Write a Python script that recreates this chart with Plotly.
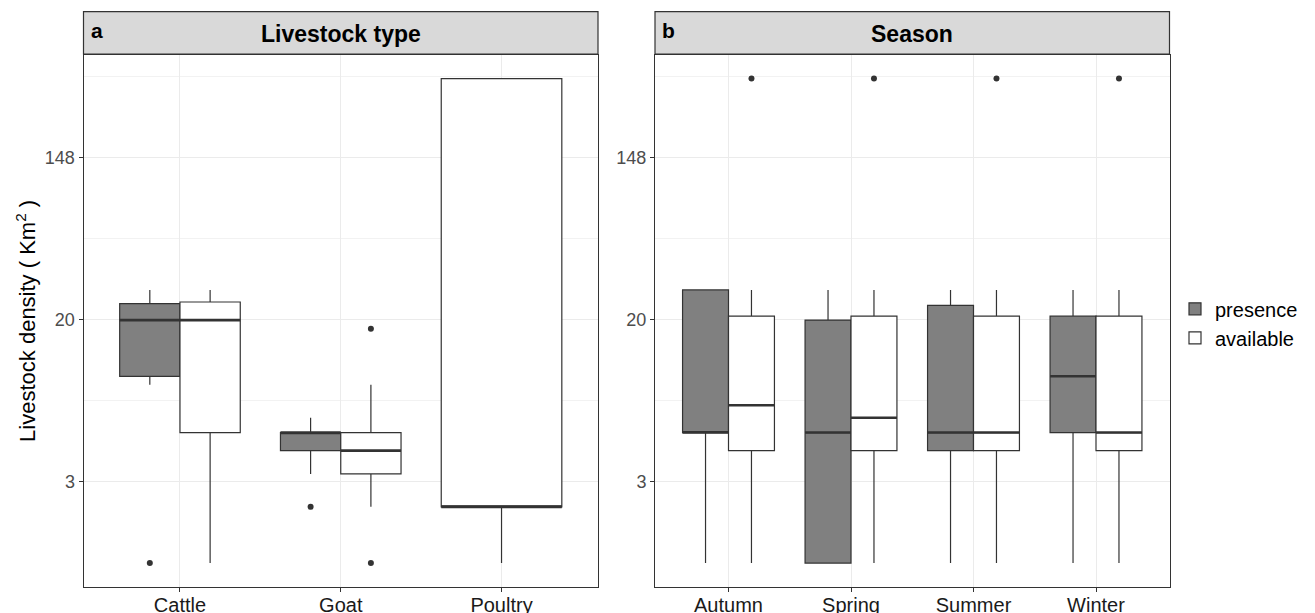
import math
import plotly.graph_objects as go

# ---------------- data ----------------
livestock_cats = ["Cattle", "Goat", "Poultry"]
season_cats = ["Autumn", "Spring", "Summer", "Winter"]
groups = ["presence", "available"]

# Panel a: Livestock type  (None = group absent)
lv_presence_low = [9, 3, None]
lv_presence_q1 = [10, 4, None]
lv_presence_med = [20, 5, None]
lv_presence_q3 = [24.5, 5, None]
lv_presence_high = [29, 6, None]
lv_presence_out = [[1], [2], []]

lv_available_low = [1, 2, 1]
lv_available_q1 = [5, 3, 2]
lv_available_med = [20, 4, 2]
lv_available_q3 = [25, 5, 393]
lv_available_high = [29, 9, 393]
lv_available_out = [[], [18, 1], []]

# Panel b: Season
se_presence_low = [1, 1, 1, 1]
se_presence_q1 = [5, 1, 4, 5]
se_presence_med = [5, 5, 5, 10]
se_presence_q3 = [29, 20, 24, 21]
se_presence_high = [29, 29, 29, 29]
se_presence_out = [[], [], [], []]

se_available_low = [1, 1, 1, 1]
se_available_q1 = [4, 4, 4, 4]
se_available_med = [7, 6, 5, 5]
se_available_q3 = [21, 21, 21, 21]
se_available_high = [29, 29, 29, 29]
se_available_out = [[393], [393], [393], [393]]

y_tick_vals = [math.e ** 1, math.e ** 3, math.e ** 5]
y_tick_text = ["3", "20", "148"]
y_minor_vals = [math.e ** 2, math.e ** 4, math.e ** 6]

# ---------------- styling ----------------
W, H = 1315, 613
OFF = 8  # page body margin


def PX(p):
    return (p - OFF) / W


def PY(p):
    return 1 - (p - OFF) / H


FONT = "Liberation Sans, Arial, sans-serif"
fills = {"presence": "#808080", "available": "#ffffff"}
EDGE = "#333333"

panels = [
    dict(cats=livestock_cats, xa="x", ya="y", stats={
        "presence": (lv_presence_low, lv_presence_q1, lv_presence_med, lv_presence_q3, lv_presence_high, lv_presence_out),
        "available": (lv_available_low, lv_available_q1, lv_available_med, lv_available_q3, lv_available_high, lv_available_out),
    }),
    dict(cats=season_cats, xa="x2", ya="y2", stats={
        "presence": (se_presence_low, se_presence_q1, se_presence_med, se_presence_q3, se_presence_high, se_presence_out),
        "available": (se_available_low, se_available_q1, se_available_med, se_available_q3, se_available_high, se_available_out),
    }),
]

fig = go.Figure()
legend_done = set()
DODGE = 0.75
for p in panels:
    for i, cat in enumerate(p["cats"]):
        present = [g for g in groups if p["stats"][g][0][i] is not None]
        n = len(present)
        w = DODGE / n
        for k, g in enumerate(present):
            low, q1, med, q3, high, out = p["stats"][g]
            pos = (i + 1) - DODGE / 2 + w * (k + 0.5)
            fig.add_trace(go.Box(
                x=[pos], q1=[q1[i]], median=[med[i]], q3=[q3[i]],
                lowerfence=[low[i]], upperfence=[high[i]],
                width=w, fillcolor=fills[g], line=dict(color=EDGE, width=1.2),
                whiskerwidth=0, boxpoints=False, name=g,
                showlegend=g not in legend_done, xaxis=p["xa"], yaxis=p["ya"],
                hoverinfo="skip",
            ))
            legend_done.add(g)
            # thick median line
            fig.add_trace(go.Scatter(
                x=[pos - w / 2, pos + w / 2], y=[med[i], med[i]], mode="lines",
                line=dict(color=EDGE, width=2.6), showlegend=False,
                xaxis=p["xa"], yaxis=p["ya"], hoverinfo="skip",
            ))
            if out[i]:
                fig.add_trace(go.Scatter(
                    x=[pos] * len(out[i]), y=out[i], mode="markers",
                    marker=dict(size=6, color=EDGE), showlegend=False,
                    xaxis=p["xa"], yaxis=p["ya"], hoverinfo="skip",
                ))

ytop_px, ybot_px = 54.5, 587.3
y_dom = [PY(ybot_px), PY(ytop_px)]
xa_dom = [PX(83.5), PX(598.0)]
xb_dom = [PX(655.0), PX(1169.5)]
ln10 = math.log(10)
y_range = [-0.2985 / ln10, 6.27 / ln10]

common_x = dict(showgrid=True, gridcolor="#ebebeb", gridwidth=1, ticks="outside", ticklen=4,
                tickcolor=EDGE, showline=True, linecolor=EDGE, linewidth=1, mirror=True,
                zeroline=False, ticklabelstandoff=-4,
                tickfont=dict(family=FONT, size=20, color="#1a1a1a"))
common_y = dict(type="log", range=y_range, tickmode="array", tickvals=y_tick_vals, ticktext=y_tick_text,
                showgrid=True, gridcolor="#ebebeb", gridwidth=1, ticks="outside", ticklen=4,
                tickcolor=EDGE, showline=True, linecolor=EDGE, linewidth=1, mirror=True,
                zeroline=False, tickfont=dict(family=FONT, size=18, color="#4d4d4d"),
                minor=dict(tickvals=y_minor_vals, showgrid=True, gridcolor="#f2f2f2", gridwidth=1, ticks=""))

fig.update_layout(
    width=W, height=H, margin=dict(l=0, r=0, t=0, b=0),
    paper_bgcolor="white", plot_bgcolor="white", boxmode="overlay",
    font=dict(family=FONT, color="black"),
    xaxis=dict(domain=xa_dom, range=[0.4, 3.6], tickmode="array", tickvals=[1, 2, 3],
               ticktext=livestock_cats, anchor="y", **common_x),
    yaxis=dict(domain=y_dom, anchor="x", **common_y),
    xaxis2=dict(domain=xb_dom, range=[0.4, 4.6], tickmode="array", tickvals=[1, 2, 3, 4],
                ticktext=season_cats, anchor="y2", **common_x),
    yaxis2=dict(domain=y_dom, anchor="x2", **common_y),
    legend=dict(x=PX(1175), y=PY(323.3), xanchor="left", yanchor="middle",
                font=dict(family=FONT, size=20, color="black"), bgcolor="rgba(0,0,0,0)",
                tracegroupgap=0, itemwidth=30),
    showlegend=True,
)

# strips
strip_top, strip_bot = PY(11.7), PY(54.0)
for dom, title, tag in [(xa_dom, "Livestock type", "a"), (xb_dom, "Season", "b")]:
    fig.add_shape(type="rect", xref="paper", yref="paper", x0=dom[0], x1=dom[1],
                  y0=strip_bot, y1=strip_top, fillcolor="#d9d9d9", line=dict(color=EDGE, width=1.2))
    fig.add_annotation(xref="paper", yref="paper", x=(dom[0] + dom[1]) / 2, y=(strip_top + strip_bot) / 2 - 1 / H,
                       text="<b>" + title + "</b>", showarrow=False,
                       font=dict(family=FONT, size=23, color="black"), xanchor="center", yanchor="middle")
    fig.add_annotation(xref="paper", yref="paper", x=dom[0] + 5 / W, y=(strip_top + strip_bot) / 2 + 2 / H,
                       text="<b>" + tag + "</b>", showarrow=False,
                       font=dict(family=FONT, size=21, color="black"), xanchor="left", yanchor="middle")

# y axis title
fig.add_annotation(xref="paper", yref="paper", x=PX(26), y=(y_dom[0] + y_dom[1]) / 2,
                   text="Livestock density ( Km<sup>2</sup> )", textangle=-90, showarrow=False,
                   font=dict(family=FONT, size=22, color="black"), xanchor="center", yanchor="middle")

fig.write_html("out.html")
